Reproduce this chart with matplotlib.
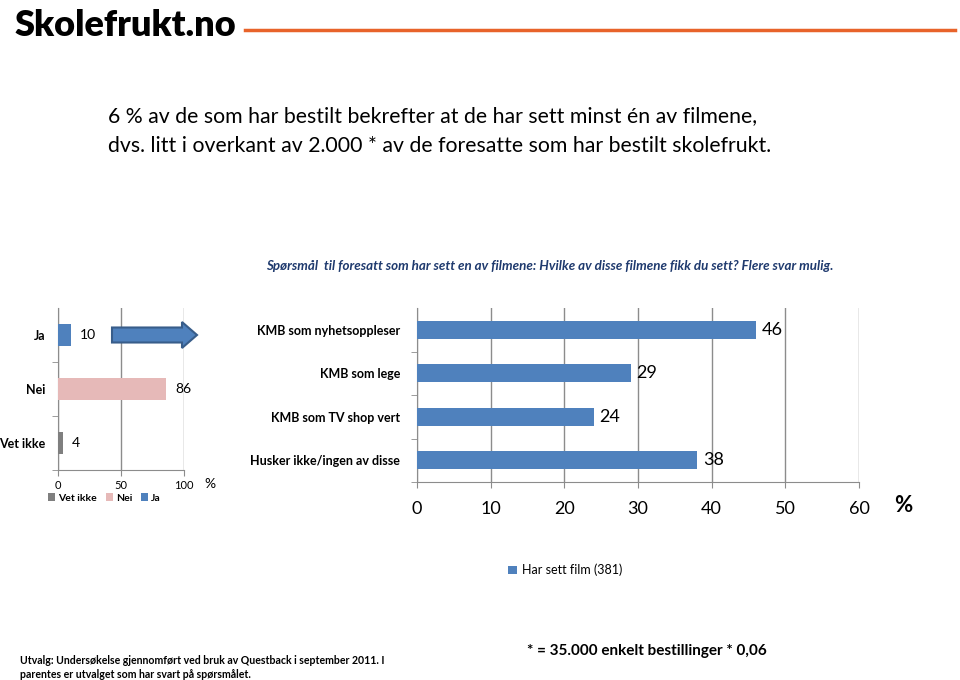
import matplotlib
matplotlib.use("Agg")
import matplotlib.pyplot as plt
from matplotlib.patches import FancyArrow
from matplotlib.lines import Line2D

plt.rcParams['font.family'] = ['Lato', 'DejaVu Sans']

# left chart: have you seen a film
svar_labels = ["Ja", "Nei", "Vet ikke"]
svar_values = [10, 86, 4]
svar_colors = ["#4F81BD", "#E6B9B8", "#7F7F7F"]
left_ticks = [0, 50, 100]

# right chart: which films
film_labels = ["KMB som nyhetsoppleser", "KMB som lege", "KMB som TV shop vert",
               "Husker ikke/ingen av disse"]
film_values = [46, 29, 24, 38]
right_ticks = [0, 10, 20, 30, 40, 50, 60]

W, H = 960, 680
fig = plt.figure(figsize=(W / 100, H / 100), dpi=100)
fig.patch.set_facecolor("white")


def fx(px):
    return px / W


def fy(py):
    return 1 - py / H


GRID = "#8C8C8C"

# header
fig.text(fx(15), fy(25), "Skolefrukt.no", fontsize=26, fontweight="heavy",
         va="center", ha="left")
fig.add_artist(Line2D([fx(245), fx(955)], [fy(30), fy(30)], color="#E8632A", lw=2.5,
                      transform=fig.transFigure))

fig.text(fx(108), fy(116), "6 % av de som har bestilt bekrefter at de har sett minst én av filmene,",
         fontsize=15.3, va="center", ha="left")
fig.text(fx(108), fy(146), "dvs. litt i overkant av 2.000 * av de foresatte som har bestilt skolefrukt.",
         fontsize=15.3, va="center", ha="left")

fig.text(fx(550), fy(266), "Spørsmål  til foresatt som har sett en av filmene: Hvilke av disse filmene fikk du sett? Flere svar mulig.",
         fontsize=9.6, fontweight="bold", fontstyle="italic", color="#1F3A6E",
         va="center", ha="center")

# left chart
ax1 = fig.add_axes([fx(58), fy(470), fx(184 - 58), (470 - 308) / H])
for i in reversed(range(len(svar_labels))):
    ax1.barh(i, svar_values[i], height=0.4, color=svar_colors[i], label=svar_labels[i], zorder=3)
    ax1.text(svar_values[i] + 7, i, str(svar_values[i]), va="center", ha="left", fontsize=10)
ax1.set_xlim(0, 100)
ax1.set_ylim(len(svar_labels) - 0.5, -0.5)
ax1.set_yticks(range(len(svar_labels)))
ax1.set_yticklabels(svar_labels, fontweight="bold", fontsize=9)
ax1.set_yticks([0.5, 1.5, 2.5], minor=True)
ax1.tick_params(axis="y", which="major", length=0, pad=9)
ax1.tick_params(axis="y", which="minor", length=4, color=GRID)
ax1.set_xticks(left_ticks)
ax1.tick_params(axis="x", labelsize=8, length=4, color=GRID)
ax1.grid(axis="x", color=GRID, lw=1, zorder=0)
for s in ["top", "right"]:
    ax1.spines[s].set_visible(False)
for s in ["left", "bottom"]:
    ax1.spines[s].set_color(GRID)
fig.text(fx(210), fy(484), "%", fontsize=10, va="center", ha="center")
ax1.legend(loc="center left", bbox_to_anchor=(fx(48), fy(498)), bbox_transform=fig.transFigure,
           ncol=3, frameon=False, prop={"weight": "bold", "size": 7.5},
           handlelength=0.7, handleheight=0.7, handletextpad=0.3, columnspacing=0.8,
           borderpad=0, borderaxespad=0)

# arrow
arr = FancyArrow(1.12, 3.45, 0.70, 0, width=0.15, head_width=0.26, head_length=0.15,
                 length_includes_head=False, facecolor="#4F81BD", edgecolor="#385D8A",
                 lw=1.5, transform=fig.dpi_scale_trans)
fig.add_artist(arr)

# right chart
ax2 = fig.add_axes([fx(417), fy(482), fx(859 - 417), (482 - 308) / H])
for i, v in enumerate(film_values):
    ax2.barh(i, v, height=0.42, color="#4F81BD", zorder=3,
             label="Har sett film (381)" if i == 0 else None)
    ax2.text(v + 0.8, i, str(v), va="center", ha="left", fontsize=13)
ax2.set_xlim(0, 60)
ax2.set_ylim(len(film_labels) - 0.5, -0.5)
ax2.set_yticks(range(len(film_labels)))
ax2.set_yticklabels(film_labels, fontweight="bold", fontsize=9)
ax2.set_yticks([0.5, 1.5, 2.5, 3.5], minor=True)
ax2.tick_params(axis="y", which="major", length=0, pad=12)
ax2.tick_params(axis="y", which="minor", length=4, color=GRID)
ax2.set_xticks(right_ticks)
ax2.tick_params(axis="x", labelsize=13, length=4, color=GRID, pad=10)
ax2.grid(axis="x", color=GRID, lw=1, zorder=0)
for s in ["top", "right"]:
    ax2.spines[s].set_visible(False)
for s in ["left", "bottom"]:
    ax2.spines[s].set_color(GRID)
fig.text(fx(903), fy(505), "%", fontsize=16, fontweight="bold", va="center", ha="center")
ax2.legend(loc="center left", bbox_to_anchor=(fx(508), fy(570)), bbox_transform=fig.transFigure,
           frameon=False, fontsize=9, handlelength=0.7, handleheight=0.7, handletextpad=0.4,
           borderpad=0, borderaxespad=0)

# footer
fig.text(fx(20), fy(660), "Utvalg: Undersøkelse gjennomført ved bruk av Questback i september 2011. I",
         fontsize=7.6, fontweight="bold", va="center", ha="left")
fig.text(fx(20), fy(675), "parentes er utvalget som har svart på spørsmålet.",
         fontsize=7.6, fontweight="bold", va="center", ha="left")
fig.text(fx(527), fy(651), "* = 35.000 enkelt bestillinger * 0,06", fontsize=11,
         fontweight="bold", va="center", ha="left")

fig.savefig("out.png", dpi=100)
